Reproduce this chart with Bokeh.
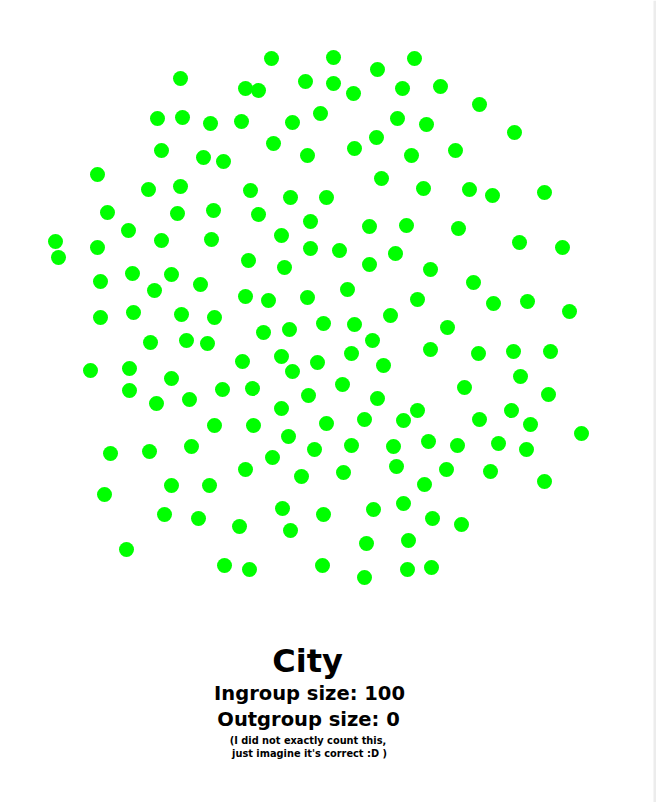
from bokeh.plotting import figure
from bokeh.models import Range1d, BoxAnnotation
from bokeh.core.properties import value
from bokeh.embed import file_html
from bokeh.resources import INLINE

# Dot positions (pixel-like units, y grows downward)
dot_x = [271, 333, 414, 180, 305, 333, 377, 245, 258, 353, 402, 440, 479, 157, 182, 210, 241, 292, 320,
         397, 426, 514, 376, 273, 161, 354, 307, 411, 455, 203, 223, 97, 381, 148, 180, 250, 423, 469,
         492, 544, 290, 326, 107, 177, 213, 258, 310, 128, 281, 369, 406, 458, 519, 562, 55, 58, 97,
         161, 211, 310, 339, 395, 248, 369, 284, 430, 473, 100, 132, 171, 154, 200, 347, 245, 268, 307,
         417, 493, 527, 569, 100, 133, 181, 214, 323, 354, 390, 447, 263, 289, 150, 186, 207, 372, 351,
         430, 478, 513, 550, 242, 281, 292, 317, 383, 90, 129, 171, 520, 129, 222, 252, 342, 308, 464,
         156, 189, 377, 548, 281, 417, 511, 214, 253, 326, 364, 403, 479, 530, 581, 110, 149, 191, 288,
         314, 272, 351, 393, 428, 457, 498, 526, 245, 301, 343, 396, 446, 490, 544, 104, 171, 209, 424,
         282, 323, 373, 403, 164, 198, 432, 461, 239, 290, 126, 366, 408, 224, 249, 322, 364, 407, 431]
dot_y = [58, 57, 58, 78, 81, 83, 69, 88, 90, 93, 88, 86, 104, 118, 117, 123, 121, 122, 113,
         118, 124, 132, 137, 143, 150, 148, 155, 155, 150, 157, 161, 174, 178, 189, 186, 190, 188, 189,
         195, 192, 197, 197, 212, 213, 210, 214, 221, 230, 235, 226, 225, 228, 242, 247, 241, 257, 247,
         240, 239, 248, 250, 253, 260, 264, 267, 269, 282, 281, 273, 274, 290, 284, 289, 296, 300, 297,
         299, 303, 301, 311, 317, 312, 314, 317, 323, 324, 315, 327, 332, 329, 342, 340, 343, 340, 353,
         349, 353, 351, 351, 361, 356, 371, 362, 365, 370, 368, 378, 376, 390, 389, 388, 384, 395, 387,
         403, 399, 398, 394, 408, 410, 410, 425, 425, 423, 419, 420, 419, 424, 433, 453, 451, 446, 436,
         449, 457, 445, 446, 441, 445, 443, 449, 469, 476, 472, 466, 469, 471, 481, 494, 485, 485, 484,
         508, 514, 509, 503, 514, 518, 518, 524, 526, 530, 549, 543, 540, 565, 569, 565, 577, 569, 567]

title_text = "City"
ingroup_text = "Ingroup size: 100"
outgroup_text = "Outgroup size: 0"
note_lines = ["(I did not exactly count this,", "just imagine it's correct :D )"]

W, H = 656, 802
p = figure(width=W, height=H, output_backend="svg", toolbar_location=None,
           x_range=Range1d(0, W), y_range=Range1d(H, 0),
           min_border=0, outline_line_color=None, background_fill_color="white",
           border_fill_color="white")
p.axis.visible = False
p.grid.visible = False

p.scatter(dot_x, dot_y, size=15, fill_color="#00ff00", line_color=None)

font = value("DejaVu Sans")
p.text(x=[307], y=[660], text=[title_text], text_font=font, text_font_style="bold",
       text_font_size="32px", text_align="center", text_baseline="alphabetic", text_color="black")
p.text(x=[309], y=[693], text=[ingroup_text], text_font=font, text_font_style="bold",
       text_font_size="19.5px", text_align="center", text_baseline="alphabetic", text_color="black")
p.text(x=[308], y=[719], text=[outgroup_text], text_font=font, text_font_style="bold",
       text_font_size="19.5px", text_align="center", text_baseline="alphabetic", text_color="black")
p.text(x=[307.5, 309], y=[740, 753], text=note_lines, text_font=font, text_font_style="bold",
       text_font_size="9.8px", text_align="center", text_baseline="alphabetic", text_color="black")

p.add_layout(BoxAnnotation(left=653, right=656, left_units="screen", right_units="screen",
                           fill_color="#ececec", fill_alpha=1, line_alpha=0))

open("out.html", "w").write(file_html(p, INLINE))
